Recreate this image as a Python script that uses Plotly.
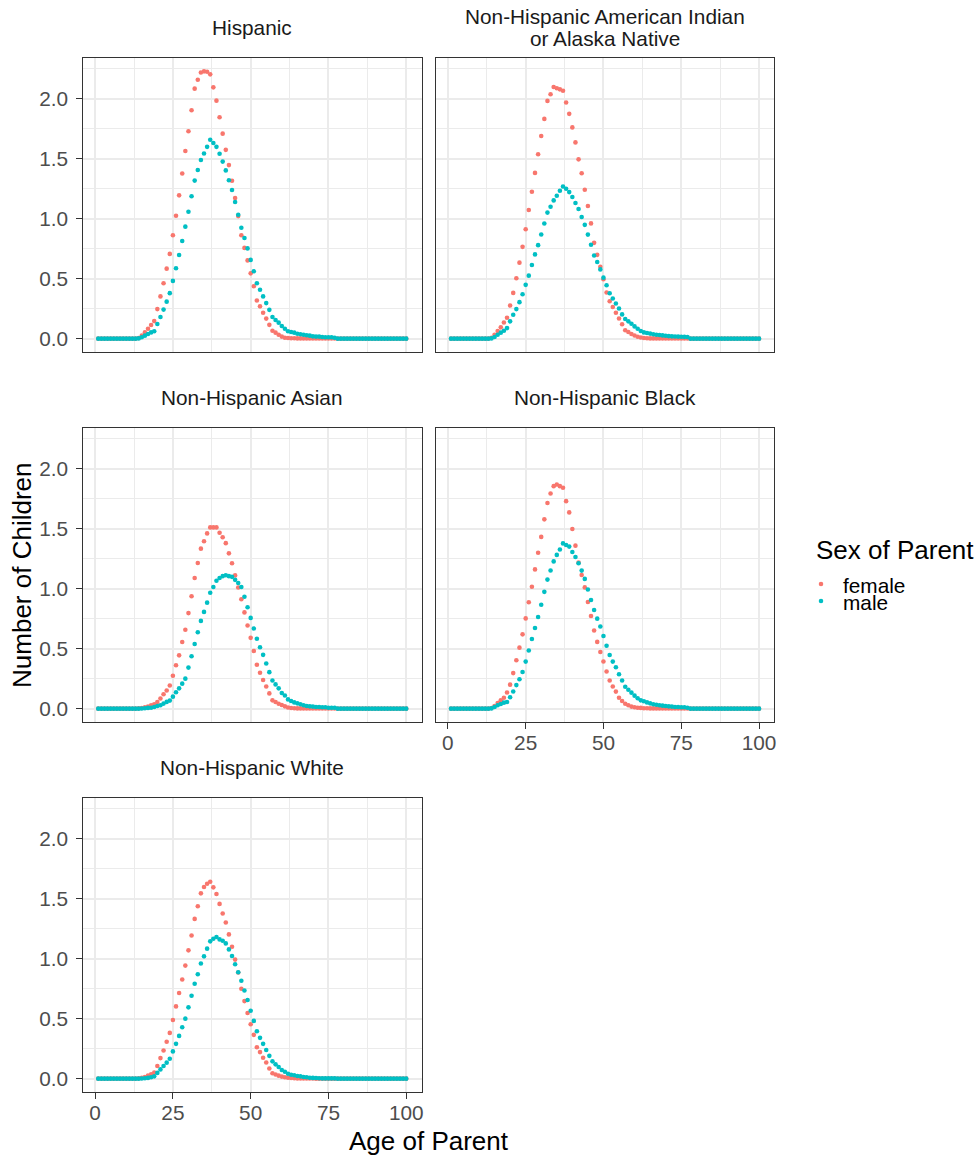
import plotly.graph_objects as go

# ---------------------------------------------------------------- data
AGES = list(range(1, 101))

GROUPS = [
    "Hispanic",
    "Non-Hispanic American Indian<br>or Alaska Native",
    "Non-Hispanic Asian",
    "Non-Hispanic Black",
    "Non-Hispanic White",
]

SEXES = ["female", "male"]

HISPANIC_FEMALE = [
    0, 0, 0, 0, 0, 0, 0, 0, 0, 0,
    0, 0, 0, 0.005, 0.025, 0.052, 0.083, 0.113, 0.146, 0.246,
    0.352, 0.462, 0.583, 0.706, 0.861, 1.024, 1.194, 1.376, 1.564, 1.728,
    1.903, 2.083, 2.157, 2.218, 2.227, 2.224, 2.202, 2.094, 1.983, 1.845,
    1.708, 1.573, 1.446, 1.316, 1.171, 1.021, 0.861, 0.756, 0.652, 0.544,
    0.437, 0.318, 0.269, 0.216, 0.167, 0.115, 0.066, 0.050, 0.033, 0.017,
    0.008, 0.005, 0.003, 0.003, 0.002, 0.002, 0.002, 0.002, 0.002, 0.002,
    0.001, 0.001, 0.001, 0.001, 0.001, 0.001, 0.001, 0, 0, 0,
    0, 0, 0, 0, 0, 0, 0, 0, 0, 0,
    0, 0, 0, 0, 0, 0, 0, 0, 0, 0,
]
HISPANIC_MALE = [
    0, 0, 0, 0, 0, 0, 0, 0, 0, 0,
    0, 0, 0, 0.002, 0.011, 0.025, 0.039, 0.052, 0.061, 0.122,
    0.180, 0.242, 0.308, 0.379, 0.481, 0.587, 0.697, 0.814, 0.933, 1.057,
    1.187, 1.317, 1.405, 1.488, 1.543, 1.598, 1.657, 1.630, 1.598, 1.540,
    1.475, 1.402, 1.320, 1.238, 1.138, 1.032, 0.924, 0.839, 0.752, 0.656,
    0.561, 0.461, 0.407, 0.352, 0.296, 0.240, 0.180, 0.155, 0.133, 0.105,
    0.083, 0.061, 0.055, 0.050, 0.041, 0.036, 0.033, 0.028, 0.025, 0.019,
    0.017, 0.017, 0.014, 0.011, 0.011, 0.011, 0.008, 0, 0, 0,
    0, 0, 0, 0, 0, 0, 0, 0, 0, 0,
    0, 0, 0, 0, 0, 0, 0, 0, 0, 0,
]
AIAN_FEMALE = [
    0, 0, 0, 0, 0, 0, 0, 0, 0, 0,
    0, 0, 0, 0.008, 0.033, 0.064, 0.094, 0.135, 0.174, 0.276,
    0.381, 0.503, 0.633, 0.765, 0.912, 1.072, 1.224, 1.381, 1.536, 1.688,
    1.831, 1.981, 2.036, 2.097, 2.086, 2.077, 2.066, 1.967, 1.873, 1.760,
    1.635, 1.494, 1.378, 1.240, 1.105, 0.960, 0.798, 0.698, 0.598, 0.495,
    0.385, 0.312, 0.264, 0.216, 0.168, 0.120, 0.070, 0.055, 0.039, 0.026,
    0.016, 0.009, 0.005, 0.003, 0.002, 0.002, 0.002, 0.002, 0.002, 0.002,
    0.001, 0.001, 0.001, 0.001, 0.001, 0.001, 0.001, 0, 0, 0,
    0, 0, 0, 0, 0, 0, 0, 0, 0, 0,
    0, 0, 0, 0, 0, 0, 0, 0, 0, 0,
]
AIAN_MALE = [
    0, 0, 0, 0, 0, 0, 0, 0, 0, 0,
    0, 0, 0, 0.002, 0.014, 0.033, 0.050, 0.066, 0.088, 0.144,
    0.199, 0.246, 0.304, 0.370, 0.448, 0.525, 0.613, 0.702, 0.779, 0.868,
    0.959, 1.050, 1.099, 1.152, 1.191, 1.232, 1.268, 1.249, 1.221, 1.180,
    1.130, 1.080, 1.014, 0.948, 0.867, 0.782, 0.693, 0.638, 0.577, 0.508,
    0.445, 0.378, 0.334, 0.293, 0.251, 0.202, 0.163, 0.144, 0.124, 0.102,
    0.083, 0.064, 0.052, 0.047, 0.042, 0.037, 0.033, 0.030, 0.027, 0.024,
    0.021, 0.019, 0.018, 0.017, 0.016, 0.015, 0.014, 0, 0, 0,
    0, 0, 0, 0, 0, 0, 0, 0, 0, 0,
    0, 0, 0, 0, 0, 0, 0, 0, 0, 0,
]
ASIAN_FEMALE = [
    0, 0, 0, 0, 0, 0, 0, 0, 0, 0,
    0, 0, 0, 0.002, 0.005, 0.011, 0.017, 0.028, 0.036, 0.055,
    0.085, 0.120, 0.151, 0.193, 0.274, 0.362, 0.444, 0.555, 0.657, 0.796,
    0.936, 1.088, 1.213, 1.333, 1.395, 1.460, 1.510, 1.510, 1.510, 1.465,
    1.428, 1.379, 1.294, 1.211, 1.110, 1.009, 0.912, 0.802, 0.693, 0.590,
    0.480, 0.366, 0.299, 0.239, 0.184, 0.127, 0.069, 0.055, 0.041, 0.030,
    0.019, 0.009, 0.005, 0.003, 0.002, 0.002, 0.002, 0.002, 0.002, 0.002,
    0.001, 0.001, 0.001, 0.001, 0.001, 0.001, 0.001, 0, 0, 0,
    0, 0, 0, 0, 0, 0, 0, 0, 0, 0,
    0, 0, 0, 0, 0, 0, 0, 0, 0, 0,
]
ASIAN_MALE = [
    0, 0, 0, 0, 0, 0, 0, 0, 0, 0,
    0, 0, 0, 0, 0.001, 0.003, 0.006, 0.008, 0.014, 0.022,
    0.028, 0.042, 0.056, 0.067, 0.100, 0.136, 0.169, 0.208, 0.250, 0.342,
    0.436, 0.539, 0.636, 0.731, 0.806, 0.883, 0.966, 1.014, 1.065, 1.088,
    1.104, 1.112, 1.104, 1.098, 1.073, 1.047, 1.014, 0.932, 0.845, 0.756,
    0.668, 0.582, 0.511, 0.448, 0.376, 0.304, 0.235, 0.202, 0.169, 0.130,
    0.110, 0.077, 0.064, 0.052, 0.044, 0.036, 0.028, 0.022, 0.019, 0.017,
    0.014, 0.014, 0.011, 0.011, 0.008, 0.008, 0.008, 0, 0, 0,
    0, 0, 0, 0, 0, 0, 0, 0, 0, 0,
    0, 0, 0, 0, 0, 0, 0, 0, 0, 0,
]
BLACK_FEMALE = [
    0, 0, 0, 0, 0, 0, 0, 0, 0, 0,
    0, 0, 0, 0.005, 0.022, 0.047, 0.069, 0.091, 0.135, 0.200,
    0.296, 0.403, 0.508, 0.619, 0.752, 0.887, 1.016, 1.160, 1.299, 1.431,
    1.577, 1.713, 1.793, 1.854, 1.867, 1.854, 1.840, 1.729, 1.635, 1.497,
    1.358, 1.218, 1.114, 1.010, 0.888, 0.772, 0.651, 0.556, 0.472, 0.393,
    0.309, 0.234, 0.184, 0.142, 0.091, 0.064, 0.041, 0.028, 0.017, 0.011,
    0.008, 0.006, 0.003, 0.003, 0.002, 0.002, 0.002, 0.002, 0.002, 0.002,
    0.001, 0.001, 0.001, 0.001, 0.001, 0.001, 0.001, 0, 0, 0,
    0, 0, 0, 0, 0, 0, 0, 0, 0, 0,
    0, 0, 0, 0, 0, 0, 0, 0, 0, 0,
]
BLACK_MALE = [
    0, 0, 0, 0, 0, 0, 0, 0, 0, 0,
    0, 0, 0, 0.002, 0.014, 0.028, 0.039, 0.050, 0.055, 0.095,
    0.143, 0.196, 0.245, 0.305, 0.392, 0.484, 0.580, 0.672, 0.764, 0.866,
    0.973, 1.075, 1.151, 1.227, 1.281, 1.326, 1.377, 1.363, 1.350, 1.305,
    1.263, 1.211, 1.150, 1.081, 0.993, 0.905, 0.822, 0.750, 0.684, 0.605,
    0.524, 0.447, 0.392, 0.345, 0.287, 0.235, 0.182, 0.157, 0.133, 0.108,
    0.086, 0.069, 0.061, 0.052, 0.044, 0.036, 0.033, 0.028, 0.025, 0.022,
    0.019, 0.017, 0.014, 0.014, 0.011, 0.011, 0.008, 0, 0, 0,
    0, 0, 0, 0, 0, 0, 0, 0, 0, 0,
    0, 0, 0, 0, 0, 0, 0, 0, 0, 0,
]
WHITE_FEMALE = [
    0, 0, 0, 0, 0, 0, 0, 0, 0, 0,
    0, 0, 0, 0.002, 0.006, 0.014, 0.025, 0.036, 0.050, 0.105,
    0.171, 0.235, 0.307, 0.381, 0.489, 0.602, 0.713, 0.826, 0.942, 1.069,
    1.193, 1.331, 1.436, 1.544, 1.597, 1.624, 1.641, 1.594, 1.539, 1.456,
    1.376, 1.301, 1.202, 1.099, 0.992, 0.884, 0.749, 0.646, 0.547, 0.453,
    0.365, 0.262, 0.221, 0.174, 0.135, 0.085, 0.045, 0.035, 0.025, 0.017,
    0.011, 0.008, 0.005, 0.003, 0.002, 0.002, 0.001, 0.001, 0.001, 0.001,
    0, 0, 0, 0, 0, 0, 0, 0, 0, 0,
    0, 0, 0, 0, 0, 0, 0, 0, 0, 0,
    0, 0, 0, 0, 0, 0, 0, 0, 0, 0,
]
WHITE_MALE = [
    0, 0, 0, 0, 0, 0, 0, 0, 0, 0,
    0, 0, 0, 0, 0.001, 0.003, 0.006, 0.011, 0.019, 0.048,
    0.077, 0.105, 0.133, 0.166, 0.227, 0.290, 0.356, 0.428, 0.500, 0.594,
    0.691, 0.790, 0.870, 0.959, 1.019, 1.083, 1.144, 1.166, 1.180, 1.160,
    1.149, 1.127, 1.077, 1.022, 0.953, 0.887, 0.815, 0.735, 0.655, 0.566,
    0.481, 0.395, 0.340, 0.290, 0.238, 0.190, 0.144, 0.119, 0.097, 0.072,
    0.058, 0.041, 0.033, 0.028, 0.022, 0.019, 0.014, 0.011, 0.008, 0.006,
    0.005, 0.003, 0.002, 0.002, 0.002, 0.002, 0.002, 0, 0, 0,
    0, 0, 0, 0, 0, 0, 0, 0, 0, 0,
    0, 0, 0, 0, 0, 0, 0, 0, 0, 0,
]

SERIES = {
    GROUPS[0]: (HISPANIC_FEMALE, HISPANIC_MALE),
    GROUPS[1]: (AIAN_FEMALE, AIAN_MALE),
    GROUPS[2]: (ASIAN_FEMALE, ASIAN_MALE),
    GROUPS[3]: (BLACK_FEMALE, BLACK_MALE),
    GROUPS[4]: (WHITE_FEMALE, WHITE_MALE),
}

X_TICKS = [0, 25, 50, 75, 100]
Y_TICKS = [0.0, 0.5, 1.0, 1.5, 2.0]

LEGEND_TITLE = "Sex of Parent"

# ---------------------------------------------------------------- styling
W, H = 977, 1156
FONT = "Liberation Sans, Arial, sans-serif"
COLORS = {"female": "#F8766D", "male": "#00BFC4"}
GRID_MAJOR = "#EBEBEB"
BORDER = "#333333"
TICK_TEXT = "#4D4D4D"
BIG = 26      # axis titles, legend title
SMALL = 20.8  # strips, tick labels, legend labels
STRIP_LINE = 22  # line pitch of multi-line strip labels
DOT = 4.6

# panel rectangles in page pixels (left, right) / (top, bottom)
COLS = [(83.0, 422.5), (436.5, 776.0)]
ROWS = [(58.0, 352.0), (428.0, 722.0), (798.0, 1092.0)]

X_RANGE = [-3.95, 104.95]
Y_MAX = max(max(v) for pair in SERIES.values() for v in pair)
Y_RANGE = [-0.05 * Y_MAX, 1.05 * Y_MAX]


def px(x):
    return x / W


def py(y):
    return 1 - y / H


fig = go.Figure()

layout = dict(
    width=W,
    height=H,
    autosize=False,
    margin=dict(l=0, r=0, t=0, b=0),
    paper_bgcolor="white",
    plot_bgcolor="white",
    font=dict(family=FONT, color="black"),
    showlegend=False,
    annotations=[],
    shapes=[],
)

for i, group in enumerate(GROUPS):
    r, c = divmod(i, 2)
    n = i + 1
    xa, ya = ("x" if n == 1 else f"x{n}"), ("y" if n == 1 else f"y{n}")
    female, male = SERIES[group]
    for sex, vals in zip(SEXES, (female, male)):
        fig.add_trace(go.Scatter(
            x=AGES, y=vals, mode="markers",
            name=sex, legendgroup=sex,
            marker=dict(color=COLORS[sex], size=DOT, line=dict(width=0)),
            xaxis=xa, yaxis=ya,
            hovertemplate="age %{x}: %{y}<extra>" + sex + "</extra>",
        ))

    show_x = (i == 3) or (i == 4)
    show_y = (c == 0)
    common = dict(
        showline=True, mirror=True, linecolor=BORDER, linewidth=1.1,
        showgrid=True, gridcolor=GRID_MAJOR, gridwidth=1.6,
        zeroline=False, fixedrange=True,
        tickfont=dict(size=SMALL, color=TICK_TEXT, family=FONT),
        tickcolor=BORDER, tickwidth=1.1, ticklen=5.5,
    )
    layout["xaxis" if n == 1 else f"xaxis{n}"] = dict(
        common,
        domain=[px(COLS[c][0]), px(COLS[c][1])], anchor=ya,
        range=X_RANGE, tickmode="array", tickvals=X_TICKS,
        minor=dict(tickmode="array",
                   tickvals=[(a + b) / 2 for a, b in zip(X_TICKS, X_TICKS[1:])],
                   showgrid=True, gridcolor=GRID_MAJOR, gridwidth=0.8, ticks=""),
        showticklabels=show_x, ticks="outside" if show_x else "",
        ticklabelstandoff=-4,
    )
    layout["yaxis" if n == 1 else f"yaxis{n}"] = dict(
        common,
        domain=[py(ROWS[r][1]), py(ROWS[r][0])], anchor=xa,
        range=Y_RANGE, tickmode="array", tickvals=Y_TICKS,
        ticktext=[f"{v:.1f}" for v in Y_TICKS],
        minor=dict(tickmode="array",
                   tickvals=[v + 0.25 for v in Y_TICKS],
                   showgrid=True, gridcolor=GRID_MAJOR, gridwidth=0.8, ticks=""),
        showticklabels=show_y, ticks="outside" if show_y else "",
        ticklabelstandoff=4,
    )

    # facet strip label, one annotation per line for a tight line pitch
    cx = (COLS[c][0] + COLS[c][1]) / 2
    lines = group.split("<br>")
    top = ROWS[r][0] - 30.5 - (len(lines) - 1) * STRIP_LINE / 2
    for k, line in enumerate(lines):
        layout["annotations"].append(dict(
            text=line, xref="paper", yref="paper",
            x=px(cx), y=py(top + k * STRIP_LINE),
            xanchor="center", yanchor="middle", showarrow=False,
            font=dict(size=SMALL, color="#1A1A1A", family=FONT),
        ))

# axis titles
layout["annotations"].append(dict(
    text="Age of Parent", xref="paper", yref="paper",
    x=px((COLS[0][0] + COLS[1][1]) / 2), y=py(1141),
    xanchor="center", yanchor="middle", showarrow=False,
    font=dict(size=BIG, color="black", family=FONT),
))
layout["annotations"].append(dict(
    text="Number of Children", xref="paper", yref="paper",
    x=px(22), y=py((ROWS[0][0] + ROWS[2][1]) / 2),
    xanchor="center", yanchor="middle", showarrow=False, textangle=-90,
    font=dict(size=BIG, color="black", family=FONT),
))

# legend: title, one key dot and label per sex
LEG_X, LEG_TITLE_Y, LEG_ROW0, LEG_STEP = 815.5, 550, 585, 17
layout["annotations"].append(dict(
    text=LEGEND_TITLE, xref="paper", yref="paper",
    x=px(LEG_X), y=py(LEG_TITLE_Y), xanchor="left", yanchor="middle",
    showarrow=False, font=dict(size=BIG, color="black", family=FONT),
))
for k, sex in enumerate(SEXES):
    yy = LEG_ROW0 + k * LEG_STEP
    r_dot = DOT / 2
    layout["shapes"].append(dict(
        type="circle", xref="paper", yref="paper",
        x0=px(822.7 - r_dot), x1=px(822.7 + r_dot),
        y0=py(yy - 1 + r_dot), y1=py(yy - 1 - r_dot),
        fillcolor=COLORS[sex], line=dict(width=0),
    ))
    layout["annotations"].append(dict(
        text=sex, xref="paper", yref="paper",
        x=px(843), y=py(yy), xanchor="left", yanchor="middle",
        showarrow=False, font=dict(size=SMALL, color="black", family=FONT),
    ))

fig.update_layout(**layout)
fig.write_html("out.html")
